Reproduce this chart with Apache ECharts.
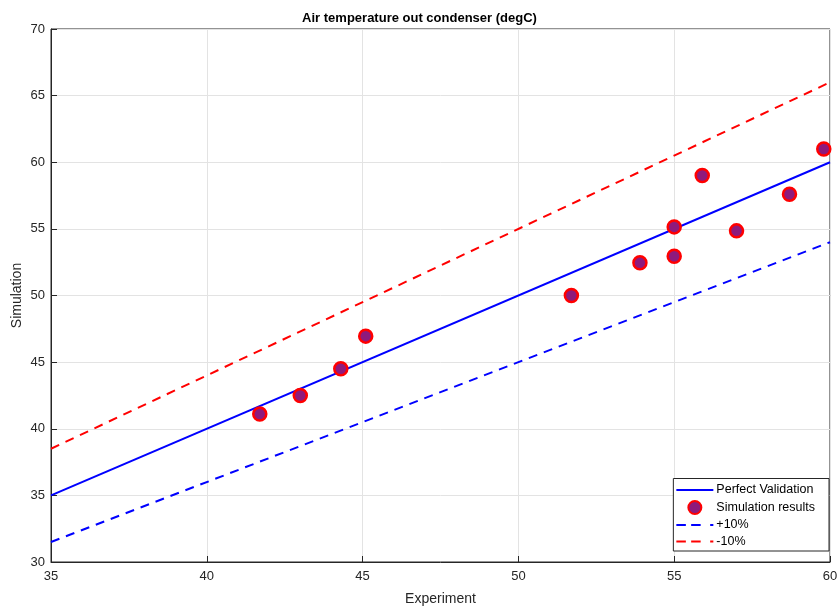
<!DOCTYPE html>
<html>
<head>
<meta charset="utf-8">
<script src="https://cdn.jsdelivr.net/npm/echarts@6/dist/echarts.min.js"></script>
<style>html,body{margin:0;padding:0;background:#fff}#c{width:839px;height:611px}</style>
</head>
<body>
<div id="c"></div>
<script>
const experiment = [41.7, 43.0, 44.3, 45.1, 51.7, 53.9, 55.0, 55.0, 55.9, 57.0, 58.7, 59.8];
const simulation = [41.1, 42.5, 44.5, 46.95, 50.0, 52.45, 52.95, 55.15, 59.0, 54.85, 57.6, 61.0];
const lineX = [35, 60];
const perfectY = [35, 60];
const plus10Y = [31.5, 54];
const minus10Y = [38.5, 66];
const xTicks = [35, 40, 45, 50, 55, 60];
const yTicks = [30, 35, 40, 45, 50, 55, 60, 65, 70];

const font = 'Helvetica, Arial, "Liberation Sans", sans-serif';
const pairs = (xs, ys) => xs.map((x, i) => [x, ys[i]]);
const solidIcon = 'path://M0,0h36v2h-36z';
const dashIcon = 'path://M0,0h9v2h-9z M14,0h9v2h-9z M32,0h3v2h-3z';

const chart = echarts.init(document.getElementById('c'), null, {renderer: 'canvas'});
chart.setOption({
  animation: false,
  backgroundColor: '#fff',
  title: {
    text: 'Air temperature out condenser (degC)',
    left: 'center', top: 7,
    textStyle: {fontFamily: font, fontSize: 13, fontWeight: 'bold', color: '#000'}
  },
  grid: {left: 51, right: 9, top: 29, bottom: 49, show: true, borderColor: '#262626', borderWidth: 1,
    containLabel: false, outerBoundsMode: 'none'},
  xAxis: {
    type: 'value', min: 35, max: 60, interval: 5,
    name: 'Experiment', nameLocation: 'middle', nameGap: 30, nameMoveOverlap: false,
    nameTextStyle: {fontFamily: font, fontSize: 14, color: '#262626'},
    axisLine: {show: true, lineStyle: {color: '#262626'}},
    axisTick: {show: true, inside: true, length: 6, lineStyle: {color: '#262626'}},
    axisLabel: {fontFamily: font, fontSize: 13, color: '#262626', margin: 8,
      formatter: v => xTicks.includes(v) ? String(v) : ''},
    splitLine: {show: true, lineStyle: {color: '#e3e3e3'}}
  },
  yAxis: {
    type: 'value', min: 30, max: 70, interval: 5,
    name: 'Simulation', nameLocation: 'middle', nameGap: 27, nameMoveOverlap: false,
    nameTextStyle: {fontFamily: font, fontSize: 14, color: '#262626'},
    axisLine: {show: true, lineStyle: {color: '#262626'}},
    axisTick: {show: true, inside: true, length: 6, lineStyle: {color: '#262626'}},
    axisLabel: {fontFamily: font, fontSize: 13, color: '#262626', margin: 6,
      formatter: v => yTicks.includes(v) ? String(v) : ''},
    splitLine: {show: true, lineStyle: {color: '#e3e3e3'}}
  },
  legend: {
    orient: 'vertical', right: 10, bottom: 60,
    backgroundColor: '#fff', borderColor: '#262626', borderWidth: 1,
    borderRadius: 0, padding: [5, 14, 3, 3], itemGap: 3.5,
    itemWidth: 37, itemHeight: 13,
    textStyle: {fontFamily: font, fontSize: 12.5, color: '#000', padding: [0, 0, 0, -2]},
    data: [
      {name: 'Perfect Validation', icon: solidIcon},
      {name: 'Simulation results', icon: 'circle'},
      {name: '+10%', icon: dashIcon},
      {name: '-10%', icon: dashIcon}
    ]
  },
  series: [
    {name: 'Perfect Validation', type: 'line', data: pairs(lineX, perfectY), symbol: 'none',
      lineStyle: {color: '#0000ff', width: 2}, itemStyle: {color: '#0000ff'}, z: 2},
    {name: '+10%', type: 'line', data: pairs(lineX, plus10Y), symbol: 'none',
      lineStyle: {color: '#0000ff', width: 2, type: [9, 7]}, itemStyle: {color: '#0000ff'}, z: 2},
    {name: '-10%', type: 'line', data: pairs(lineX, minus10Y), symbol: 'none',
      lineStyle: {color: '#ff0000', width: 2, type: [9, 7]}, itemStyle: {color: '#ff0000'}, z: 2},
    {name: 'Simulation results', type: 'scatter', data: pairs(experiment, simulation),
      symbol: 'circle', symbolSize: 13,
      itemStyle: {color: '#8e1a7c', borderColor: '#ff0000', borderWidth: 2.5, opacity: 1}, z: 5}
  ]
});
</script>
</body>
</html>
